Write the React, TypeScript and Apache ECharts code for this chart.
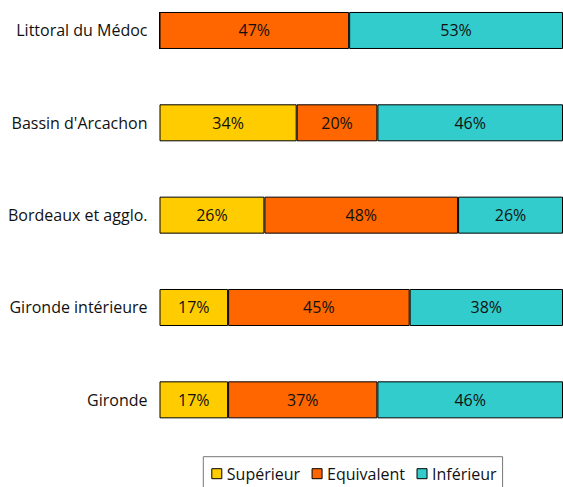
import React, { useEffect, useRef } from "react";
import * as echarts from "echarts";

const categories = ["Littoral du Médoc", "Bassin d'Arcachon", "Bordeaux et agglo.", "Gironde intérieure", "Gironde"];
const superieur = [0, 34, 26, 17, 17];
const equivalent = [47, 20, 48, 45, 37];
const inferieur = [53, 46, 26, 38, 46];
const seriesNames = ["Supérieur", "Equivalent", "Inférieur"];
const colors = ["#FFCC00", "#FF6600", "#33CCCC"];

const FONT = "Open Sans";
const OFFSET = 16;

export default function App() {
  const ref = useRef<HTMLDivElement>(null);
  useEffect(() => {
    if (!ref.current) return;
    const chart = echarts.init(ref.current, undefined, { renderer: "svg" });
    const mk = (name: string, data: number[], color: string) => ({
      name,
      type: "bar",
      stack: "total",
      data,
      barWidth: 37,
      itemStyle: { color, borderColor: "#000", borderWidth: 1 },
      label: {
        show: true,
        position: "inside",
        color: "#111",
        fontFamily: FONT,
        fontSize: 16,
        formatter: (p: any) => (p.value ? p.value + "%" : ""),
      },
      emphasis: { disabled: true },
    });
    chart.setOption({
      animation: false,
      color: colors,
      grid: { left: 159.5, right: -2.5, top: 0.3, bottom: 41, containLabel: false },
      xAxis: {
        type: "value",
        min: 0,
        max: 100,
        show: false,
      },
      yAxis: {
        type: "category",
        data: categories,
        inverse: true,
        axisLine: { show: false },
        axisTick: { show: false },
        axisLabel: { color: "#111", fontFamily: FONT, fontSize: 16, margin: 12 },
      },
      legend: {
        top: 456.7 + OFFSET,
        left: 203.3,
        data: seriesNames,
        itemWidth: 10,
        itemHeight: 10,
        itemGap: 11.5,
        padding: [9, 6, 9, 8],
        borderColor: "#777",
        borderWidth: 1,
        textStyle: { color: "#111", fontFamily: FONT, fontSize: 16 },
        icon: "rect",
        itemStyle: { borderColor: "#000", borderWidth: 1 },
      },
      series: [
        mk(seriesNames[0], superieur, colors[0]),
        mk(seriesNames[1], equivalent, colors[1]),
        mk(seriesNames[2], inferieur, colors[2]),
      ],
    });
    return () => chart.dispose();
  }, []);
  return (
    <div
      ref={ref}
      style={{ width: 563, height: 487 + OFFSET, position: "absolute", left: 0, top: -OFFSET }}
    />
  );
}
